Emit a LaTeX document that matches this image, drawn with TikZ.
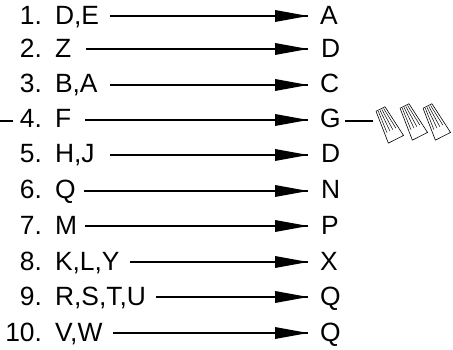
\documentclass[tikz,border=0pt]{standalone}
\usepackage{fontspec}
\setmainfont{Liberation Sans}
\begin{document}
\begin{tikzpicture}[x=1pt,y=-1pt,
  lbl/.style={inner sep=0pt,outer sep=0pt,font=\fontsize{26.4}{28}\selectfont,anchor=base west},
  num/.style={inner sep=0pt,outer sep=0pt,font=\fontsize{26.4}{28}\selectfont,anchor=base east},
  conn/.style={line width=1.3pt,black},
  tipp/.style={fill=black,draw=none},
  nut/.style={draw=black,line width=0.6pt,fill=white,line join=round},
  rib/.style={draw=black,line width=0.5pt}]
\useasboundingbox (0,0) rectangle (453,350);
\newcommand{\rowitem}[7]{%
  \node[num] (n#1) at (42,#4) {#1.};
  \node[lbl] (l#1) at (55,#4) {#2};
  \node[lbl] (t#1) at (#7,#4) {#3};
  \coordinate (s#1) at (#6,#5);
  \coordinate (e#1) at (308,#5);
  \draw[conn] (s#1) -- (e#1);
  \fill[tipp] (e#1) -- ++(-33,-6) -- ++(0,12) -- cycle;
}
\rowitem{1}{D,E}{A}{24.7}{16}{110}{320}
\rowitem{2}{Z}{D}{57.5}{49}{86}{321}
\rowitem{3}{B,A}{C}{92.7}{85}{110}{320}
\rowitem{4}{F}{G}{128}{120}{85}{320}
\rowitem{5}{H,J}{D}{163}{155}{110}{321}
\rowitem{6}{Q}{N}{199}{191}{84}{321}
\rowitem{7}{M}{P}{234.5}{226}{85}{321}
\rowitem{8}{K,L,Y}{X}{270.5}{262}{130}{320}
\rowitem{9}{R,S,T,U}{Q}{305.7}{297}{156}{320}
\rowitem{10}{V,W}{Q}{341}{333}{113}{320}
\coordinate (dashL) at (0,121);
\coordinate (dashR) at (13,121);
\draw[conn] (dashL) -- (dashR);
\coordinate (wireS) at (345,121);
\coordinate (wireE) at (373,121);
\draw[conn] (wireS) -- (wireE);
\newcommand{\wirenut}[1]{%
  \begin{scope}[shift={(#1)},rotate=27]
    \draw[nut] (-5,0) -- (5,0) -- (8.5,34) -- (-8.5,34) -- cycle;
    \draw[rib] (-3,1) -- (-5,24) (-1,1) -- (-1.6,24) (1,1) -- (1.6,24) (3,1) -- (5,24);
  \end{scope}}
\wirenut{380.5,109}
\wirenut{404.5,106}
\wirenut{427.5,106}
\end{tikzpicture}
\end{document}
